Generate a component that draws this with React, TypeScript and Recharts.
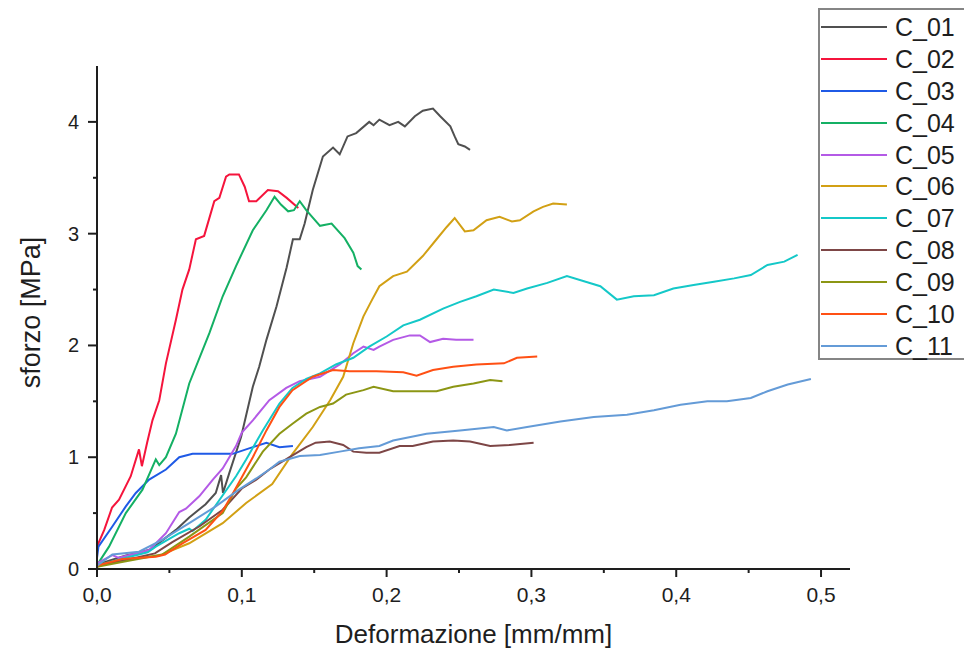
import { Label, Legend, Line, LineChart, XAxis, YAxis } from 'recharts'
import type { LegendProps } from 'recharts'

type Pt = [number, number]

// valori: [deformazione mm/mm, sforzo MPa]
const C01: Pt[] = [
  [0, 0.04], [0.01, 0.08], [0.02, 0.12], [0.03, 0.15], [0.038, 0.18], [0.044, 0.245], [0.0545, 0.35],
  [0.0637, 0.46], [0.075, 0.58], [0.082, 0.68], [0.0857, 0.84], [0.087, 0.68], [0.0914, 0.86],
  [0.0995, 1.18], [0.1076, 1.63], [0.112, 1.81], [0.117, 2.05], [0.124, 2.35], [0.131, 2.7], [0.1353, 2.95],
  [0.14, 2.95], [0.1434, 3.09], [0.149, 3.39], [0.156, 3.69], [0.163, 3.77], [0.1676, 3.71], [0.173, 3.87],
  [0.179, 3.9], [0.188, 4.0], [0.191, 3.97], [0.195, 4.02], [0.202, 3.97], [0.208, 4.0], [0.2126, 3.96],
  [0.2195, 4.05], [0.225, 4.1], [0.232, 4.12], [0.237, 4.05], [0.244, 3.96], [0.247, 3.87], [0.2495, 3.8],
  [0.254, 3.78], [0.2576, 3.75],
]
const C02: Pt[] = [
  [0, 0.2], [0.005, 0.35], [0.0104, 0.55], [0.0152, 0.62], [0.0233, 0.83], [0.029, 1.07], [0.031, 0.92],
  [0.0346, 1.13], [0.0383, 1.33], [0.043, 1.51], [0.0476, 1.84], [0.0545, 2.23], [0.059, 2.5], [0.0637, 2.68],
  [0.0683, 2.95], [0.074, 2.98], [0.081, 3.29], [0.0845, 3.32], [0.0891, 3.51], [0.0914, 3.53], [0.098, 3.53],
  [0.102, 3.42], [0.105, 3.29], [0.11, 3.29], [0.118, 3.39], [0.125, 3.38], [0.131, 3.32], [0.139, 3.23],
]
const C03: Pt[] = [
  [0, 0.1], [0.001, 0.2], [0.0106, 0.38], [0.0199, 0.56], [0.0268, 0.68], [0.036, 0.8], [0.0476, 0.89],
  [0.0568, 1.0], [0.066, 1.03], [0.08, 1.03], [0.0937, 1.03], [0.1076, 1.09], [0.117, 1.13], [0.126, 1.09],
  [0.1353, 1.1],
]
const C04: Pt[] = [
  [0, 0.035], [0.0083, 0.2], [0.0199, 0.5], [0.0314, 0.71], [0.0406, 0.98], [0.043, 0.93], [0.0476, 1.0],
  [0.0545, 1.21], [0.0637, 1.66], [0.0776, 2.11], [0.0868, 2.44], [0.096, 2.71], [0.1076, 3.03], [0.117, 3.21],
  [0.1226, 3.33], [0.127, 3.26], [0.132, 3.2], [0.136, 3.21], [0.14, 3.29], [0.1445, 3.21], [0.154, 3.07],
  [0.162, 3.09], [0.171, 2.96], [0.177, 2.83], [0.18, 2.71], [0.1826, 2.68],
]
const C05: Pt[] = [
  [0, 0.05], [0.0106, 0.125], [0.015, 0.1], [0.036, 0.17], [0.0476, 0.32], [0.0568, 0.51], [0.0614, 0.54],
  [0.0706, 0.65], [0.08, 0.8], [0.0868, 0.9], [0.096, 1.1], [0.1, 1.22], [0.1076, 1.33], [0.119, 1.51],
  [0.1307, 1.62], [0.14, 1.68], [0.154, 1.72], [0.1676, 1.83], [0.177, 1.93], [0.184, 1.99], [0.191, 1.96],
  [0.195, 1.99], [0.2045, 2.05], [0.216, 2.09], [0.223, 2.09], [0.23, 2.03], [0.239, 2.06], [0.248, 2.05],
  [0.26, 2.05],
]
const C06: Pt[] = [
  [0, 0.02], [0.015, 0.08], [0.03, 0.1], [0.043, 0.12], [0.0637, 0.23], [0.0868, 0.41], [0.103, 0.59],
  [0.121, 0.76], [0.135, 1.03], [0.149, 1.27], [0.161, 1.51], [0.17, 1.72], [0.177, 2.02], [0.184, 2.26],
  [0.19, 2.41], [0.195, 2.53], [0.2045, 2.62], [0.214, 2.66], [0.225, 2.8], [0.2345, 2.95], [0.2415, 3.06],
  [0.247, 3.14], [0.254, 3.02], [0.26, 3.03], [0.269, 3.12], [0.278, 3.15], [0.2865, 3.11], [0.292, 3.12],
  [0.3015, 3.2], [0.308, 3.24], [0.315, 3.27], [0.3245, 3.26],
]
const C07: Pt[] = [
  [0, 0.03], [0.02, 0.1], [0.035, 0.15], [0.0406, 0.2], [0.0568, 0.32], [0.0637, 0.36], [0.066, 0.34],
  [0.075, 0.44], [0.089, 0.7], [0.096, 0.83], [0.103, 0.98], [0.1145, 1.24], [0.126, 1.48], [0.135, 1.62],
  [0.1445, 1.7], [0.154, 1.75], [0.165, 1.83], [0.177, 1.89], [0.188, 1.99], [0.2, 2.08], [0.2115, 2.18],
  [0.223, 2.23], [0.239, 2.33], [0.2507, 2.39], [0.262, 2.44], [0.274, 2.5], [0.2876, 2.47], [0.297, 2.51],
  [0.311, 2.56], [0.3245, 2.62], [0.3476, 2.53], [0.359, 2.41], [0.3707, 2.44], [0.3846, 2.45], [0.398, 2.51],
  [0.412, 2.54], [0.426, 2.57], [0.44, 2.6], [0.4515, 2.63], [0.463, 2.72], [0.4746, 2.75], [0.4838, 2.81],
]
const C08: Pt[] = [
  [0, 0.03], [0.02, 0.08], [0.04, 0.14], [0.052, 0.24], [0.0706, 0.38], [0.0868, 0.53], [0.1, 0.72],
  [0.11, 0.8], [0.119, 0.89], [0.133, 1.0], [0.1445, 1.09], [0.151, 1.13], [0.1607, 1.14], [0.17, 1.11],
  [0.177, 1.05], [0.186, 1.04], [0.195, 1.04], [0.209, 1.1], [0.218, 1.1], [0.232, 1.14], [0.246, 1.15],
  [0.2576, 1.14], [0.2715, 1.1], [0.285, 1.11], [0.3015, 1.13],
]
const C09: Pt[] = [
  [0, 0.02], [0.02, 0.07], [0.045, 0.13], [0.0637, 0.29], [0.0868, 0.5], [0.096, 0.72], [0.103, 0.82],
  [0.1145, 1.05], [0.126, 1.21], [0.135, 1.3], [0.1445, 1.39], [0.154, 1.45], [0.163, 1.48], [0.172, 1.56],
  [0.184, 1.6], [0.191, 1.63], [0.2045, 1.59], [0.2345, 1.59], [0.246, 1.63], [0.26, 1.66], [0.2715, 1.69],
  [0.28, 1.68],
]
const C10: Pt[] = [
  [0, 0.03], [0.0175, 0.09], [0.0406, 0.11], [0.047, 0.13], [0.059, 0.23], [0.075, 0.35], [0.0868, 0.52],
  [0.094, 0.68], [0.1, 0.82], [0.1076, 1.0], [0.117, 1.24], [0.126, 1.45], [0.135, 1.6], [0.149, 1.72],
  [0.163, 1.78], [0.1745, 1.77], [0.193, 1.77], [0.2115, 1.76], [0.2207, 1.73], [0.232, 1.78], [0.246, 1.81],
  [0.262, 1.83], [0.281, 1.84], [0.29, 1.89], [0.304, 1.9],
]
const C11: Pt[] = [
  [0, 0.03], [0.0106, 0.13], [0.029, 0.155], [0.045, 0.26], [0.0637, 0.41], [0.082, 0.56], [0.098, 0.71],
  [0.11, 0.81], [0.119, 0.89], [0.126, 0.96], [0.14, 1.01], [0.154, 1.02], [0.1676, 1.05], [0.181, 1.08],
  [0.195, 1.1], [0.2045, 1.15], [0.2276, 1.21], [0.2507, 1.24], [0.274, 1.27], [0.283, 1.24], [0.297, 1.27],
  [0.32, 1.32], [0.343, 1.36], [0.366, 1.38], [0.3846, 1.42], [0.403, 1.47], [0.4215, 1.5], [0.435, 1.5],
  [0.4515, 1.53], [0.463, 1.59], [0.477, 1.65], [0.493, 1.7],
]

const NAMES = ['C_01', 'C_02', 'C_03', 'C_04', 'C_05', 'C_06', 'C_07', 'C_08', 'C_09', 'C_10', 'C_11']
const VALUES = [C01, C02, C03, C04, C05, C06, C07, C08, C09, C10, C11]
const COLORS = [
  '#505050', '#f5143c', '#1f5ae6', '#14b064', '#b45ae6', '#d2a014',
  '#14c8c8', '#7d4646', '#8c9614', '#ff5014', '#649bd7',
]

const X_TICKS = [0, 0.05, 0.1, 0.15, 0.2, 0.25, 0.3, 0.35, 0.4, 0.45, 0.5]
const Y_TICKS = [0, 0.5, 1, 1.5, 2, 2.5, 3, 3.5, 4]

const FONT = '"Liberation Sans", Arial, sans-serif'
const INK = '#1e1e1e'

function XTick({ x, y, payload }: any) {
  const v = payload.value as number
  const major = Math.abs(v * 10 - Math.round(v * 10)) < 1e-6
  return (
    <g>
      <line x1={x} x2={x} y1={y} y2={y + (major ? 8 : 4)} stroke={INK} strokeWidth={2} />
      {major && (
        <text x={x} y={y + 33} textAnchor="middle" fontSize={21} fontFamily={FONT} fill={INK}>
          {v.toFixed(1).replace('.', ',')}
        </text>
      )}
    </g>
  )
}

function YTick({ x, y, payload }: any) {
  const v = payload.value as number
  const major = Number.isInteger(v)
  return (
    <g>
      <line x1={x - (major ? 9 : 4)} x2={x} y1={y} y2={y} stroke={INK} strokeWidth={2} />
      {major && (
        <text x={x - 18} y={y + 7} textAnchor="end" fontSize={20} fontFamily={FONT} fill={INK}>
          {v}
        </text>
      )}
    </g>
  )
}

function BoxLegend({ payload }: LegendProps) {
  if (!payload?.length) return null
  return (
    <div
      style={{
        border: '2px solid #858585',
        background: '#fff',
        width: 150,
        height: 352,
        boxSizing: 'border-box',
        paddingTop: 1,
        fontFamily: FONT,
      }}
    >
      {payload.map((entry) => (
        <div key={String(entry.value)} style={{ display: 'flex', alignItems: 'center', height: 31.9 }}>
          <span
            style={{ display: 'inline-block', width: 66, height: 2, marginLeft: 1, background: entry.color }}
          />
          <span style={{ marginLeft: 8, fontSize: 25, color: INK, lineHeight: '28px' }}>{entry.value}</span>
        </div>
      ))}
    </div>
  )
}

export default function App() {
  return (
    <div style={{ position: 'absolute', left: 0, top: 0, background: '#fff' }}>
      <LineChart width={964} height={651} margin={{ top: 66, right: 114, bottom: 0, left: 0 }}>
        <XAxis
          type="number"
          dataKey="x"
          domain={[0, 0.52]}
          ticks={X_TICKS}
          allowDataOverflow
          height={82}
          tickSize={0}
          tickMargin={0}
          tickLine={false}
          tick={<XTick />}
          axisLine={{ stroke: INK, strokeWidth: 2 }}
          interval={0}
        >
          <Label
            content={({ viewBox }: any) => (
              <text
                x={viewBox.x + viewBox.width / 2}
                y={viewBox.y + 74}
                textAnchor="middle"
                fontSize={26}
                fontFamily={FONT}
                fill={INK}
              >
                Deformazione [mm/mm]
              </text>
            )}
          />
        </XAxis>
        <YAxis
          type="number"
          domain={[0, 4.5]}
          ticks={Y_TICKS}
          allowDataOverflow
          width={97}
          tickSize={0}
          tickMargin={0}
          tickLine={false}
          tick={<YTick />}
          axisLine={{ stroke: INK, strokeWidth: 2 }}
          interval={0}
        >
          <Label
            content={({ viewBox }: any) => {
              const cx = viewBox.x + 40
              const cy = viewBox.y + viewBox.height / 2 - 5
              return (
                <text
                  x={cx}
                  y={cy}
                  transform={`rotate(-90, ${cx}, ${cy})`}
                  textAnchor="middle"
                  fontSize={27}
                  fontFamily={FONT}
                  fill={INK}
                >
                  sforzo [MPa]
                </text>
              )
            }}
          />
        </YAxis>
        <Legend
          layout="horizontal"
          verticalAlign="middle"
          align="center"
          content={<BoxLegend />}
          wrapperStyle={{ left: 818, top: 8, width: 150, height: 352 }}
        />
        {NAMES.map((name, i) => (
          <Line
            key={name}
            name={name}
            data={VALUES[i].map(([x, y]) => ({ x, y }))}
            dataKey="y"
            type="linear"
            stroke={COLORS[i]}
            strokeWidth={2}
            dot={false}
            activeDot={false}
            isAnimationActive={false}
          />
        ))}
      </LineChart>
    </div>
  )
}
